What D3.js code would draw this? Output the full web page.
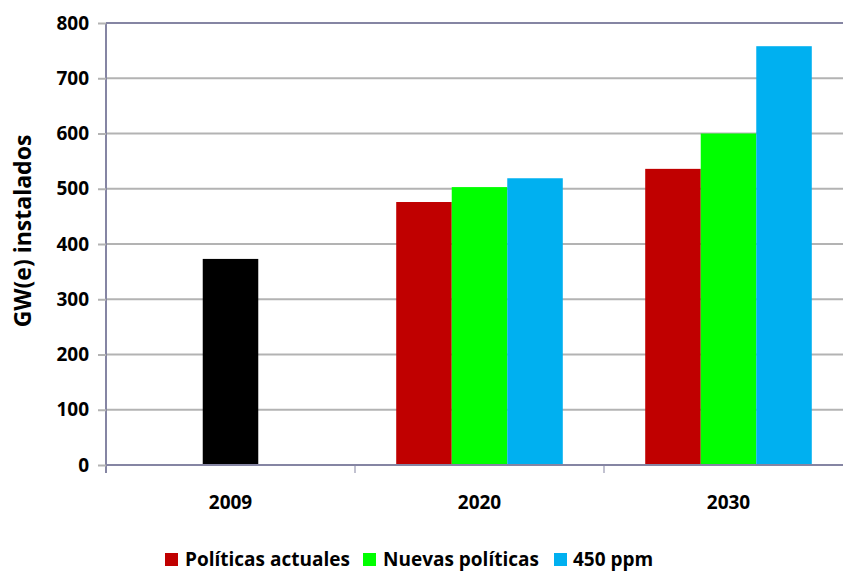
<!DOCTYPE html>
<html>
<head>
<meta charset="utf-8">
<script src="https://cdn.jsdelivr.net/npm/d3@7"></script>
<style>
  html, body { margin: 0; padding: 0; background: #ffffff; }
  svg { display: block; }
  text { font-family: "Open Sans", Lato, sans-serif; font-weight: bold; fill: #000; }
</style>
</head>
<body>
<script>
// Installed capacity (GW(e)) by year and scenario
const years = ["2009", "2020", "2030"];
const scenarios = ["Políticas actuales", "Nuevas políticas", "450 ppm"];
const historic = [373, null, null];
const actuales = [null, 476, 536];
const nuevas = [null, 503, 600];
const ppm450 = [null, 519, 758];
const yTicks = [0, 100, 200, 300, 400, 500, 600, 700, 800];
const yLabel = "GW(e) instalados";

const W = 843, H = 572;
const plotL = 106, plotT = 23, plotB = 465, plotR = 853;
const font = "'Open Sans', Lato, sans-serif";
const fs = 19;

const svg = d3.select("body").append("svg").attr("width", W).attr("height", H);

const x = d3.scaleBand().domain(years).range([plotL, plotR]);
const y = d3.scaleLinear().domain([0, 800]).range([plotB, plotT]);

const axisColor = "#8585a3";
const gridColor = "#b3b3b3";

// horizontal gridlines
svg.append("g").selectAll("line").data(yTicks.filter(d => d > 0 && d < 800)).join("line")
  .attr("x1", plotL).attr("x2", W)
  .attr("y1", d => y(d)).attr("y2", d => y(d))
  .attr("stroke", gridColor).attr("stroke-width", 2);

// bars
const series = [
  { name: "hist", values: historic, color: "#000000" },
  { name: scenarios[0], values: actuales, color: "#c00000" },
  { name: scenarios[1], values: nuevas, color: "#00ff00" },
  { name: scenarios[2], values: ppm450, color: "#00b0f0" }
];
const barW = x.bandwidth() * 0.223;
years.forEach((yr, i) => {
  const present = series.filter(s => s.values[i] != null);
  const groupW = barW * present.length;
  const start = x(yr) + x.bandwidth() / 2 - groupW / 2;
  svg.append("g").selectAll("rect").data(present).join("rect")
    .attr("x", (s, k) => start + k * barW)
    .attr("width", barW)
    .attr("y", s => y(s.values[i]))
    .attr("height", s => y(0) - y(s.values[i]))
    .attr("fill", s => s.color);
});

// y axis
const yAxis = svg.append("g").attr("transform", `translate(${plotL},0)`)
  .call(d3.axisLeft(y).tickValues(yTicks).tickSize(8).tickPadding(9).tickFormat(d3.format("d")));
yAxis.select(".domain").attr("stroke", axisColor).attr("stroke-width", 2).attr("d", `M0,${plotT}V${plotB + 8}`);
yAxis.selectAll(".tick line").attr("stroke", gridColor).attr("stroke-width", 2);
yAxis.selectAll(".tick text").attr("font-size", fs).attr("font-family", font).attr("font-weight", "bold");

// top border
svg.append("line").attr("x1", plotL).attr("x2", W).attr("y1", plotT).attr("y2", plotT)
  .attr("stroke", axisColor).attr("stroke-width", 2);

// x axis
const xAxis = svg.append("g").attr("transform", `translate(0,${plotB})`)
  .call(d3.axisBottom(x).tickSize(0).tickPadding(31));
xAxis.select(".domain").attr("stroke", axisColor).attr("stroke-width", 2).attr("d", `M${plotL},0H${W}`);
xAxis.selectAll(".tick text").attr("font-size", fs).attr("font-family", font).attr("font-weight", "bold");
// category separators
svg.append("g").selectAll("line").data(years.slice(1)).join("line")
  .attr("x1", d => x(d)).attr("x2", d => x(d))
  .attr("y1", plotB).attr("y2", plotB + 8)
  .attr("stroke", axisColor).attr("stroke-width", 1);

// y label
svg.append("text")
  .attr("transform", `translate(31,${(132 + 330) / 2}) rotate(-90)`)
  .attr("text-anchor", "middle")
  .attr("font-size", 23)
  .text(yLabel);

// legend
const legend = [
  { label: scenarios[0], color: "#c00000", x: 165, tx: 185 },
  { label: scenarios[1], color: "#00ff00", x: 363, tx: 383 },
  { label: scenarios[2], color: "#00b0f0", x: 554, tx: 573 }
];
const lg = svg.append("g");
lg.selectAll("rect").data(legend).join("rect")
  .attr("x", d => d.x).attr("y", 553).attr("width", 13).attr("height", 13)
  .attr("fill", d => d.color);
lg.selectAll("text").data(legend).join("text")
  .attr("x", d => d.tx).attr("y", 566)
  .attr("font-size", fs)
  .text(d => d.label);
</script>
</body>
</html>
